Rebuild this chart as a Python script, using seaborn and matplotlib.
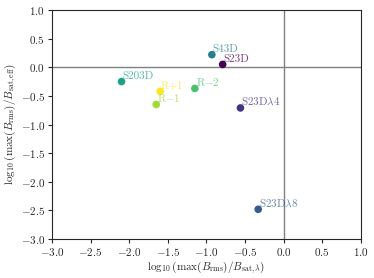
import numpy as np
import pandas as pd
import matplotlib
matplotlib.use('Agg')
import matplotlib.pyplot as plt
import seaborn as sns

# runs, in colour order (viridis)
runs = ['S23D', r'S23D$\lambda$4', r'S23D$\lambda$8', 'S43D', 'S203D',
        r'R$-$2', r'R$-$1', 'R+1']
x_vals = [-0.79, -0.56, -0.33, -0.93, -2.10, -1.15, -1.65, -1.60]
y_vals = [0.05, -0.71, -2.48, 0.22, -0.25, -0.37, -0.65, -0.42]

sns.set_style('ticks')
plt.rcParams['font.family'] = ['serif']
plt.rcParams['font.serif'] = ['cmr10', 'DejaVu Serif']
plt.rcParams['mathtext.fontset'] = 'cm'
plt.rcParams['axes.formatter.use_mathtext'] = True

df = pd.DataFrame({'run': runs, 'x': x_vals, 'y': y_vals})
# full viridis range, dark purple to bright yellow
colors = [tuple(c) for c in plt.cm.viridis(np.linspace(0, 1, len(runs)))]

fig, ax = plt.subplots(figsize=(3.74, 2.78), dpi=100)
fig.subplots_adjust(left=0.139, right=0.965, bottom=0.14, top=0.964)

ax.axhline(0, color='gray', lw=1, zorder=0)
ax.axvline(0, color='gray', lw=1, zorder=0)

sns.scatterplot(data=df, x='x', y='y', hue='run', palette=colors, s=30,
                edgecolor='none', legend=False, ax=ax, zorder=3)

# labels next to each point
for i, row in df.iterrows():
    ax.text(row['x'] + 0.01, row['y'] + 0.01, row['run'], color=colors[i],
            alpha=0.75, fontsize=8, ha='left', va='bottom')

ax.set_xlim(-3, 1)
ax.set_ylim(-3, 1)
ax.set_xticks(np.arange(-3, 1.01, 0.5))
ax.set_yticks(np.arange(-3, 1.01, 0.5))
ax.tick_params(labelsize=8, length=3, pad=2)
ax.set_xlabel(r'$\log_{10}(\max(B_{\rm rms})/B_{\rm sat,\lambda})$', fontsize=8, labelpad=1)
ax.set_ylabel(r'$\log_{10}(\max(B_{\rm rms})/B_{\rm sat,eff})$', fontsize=8, labelpad=1)

fig.savefig('out.png', dpi=100)
